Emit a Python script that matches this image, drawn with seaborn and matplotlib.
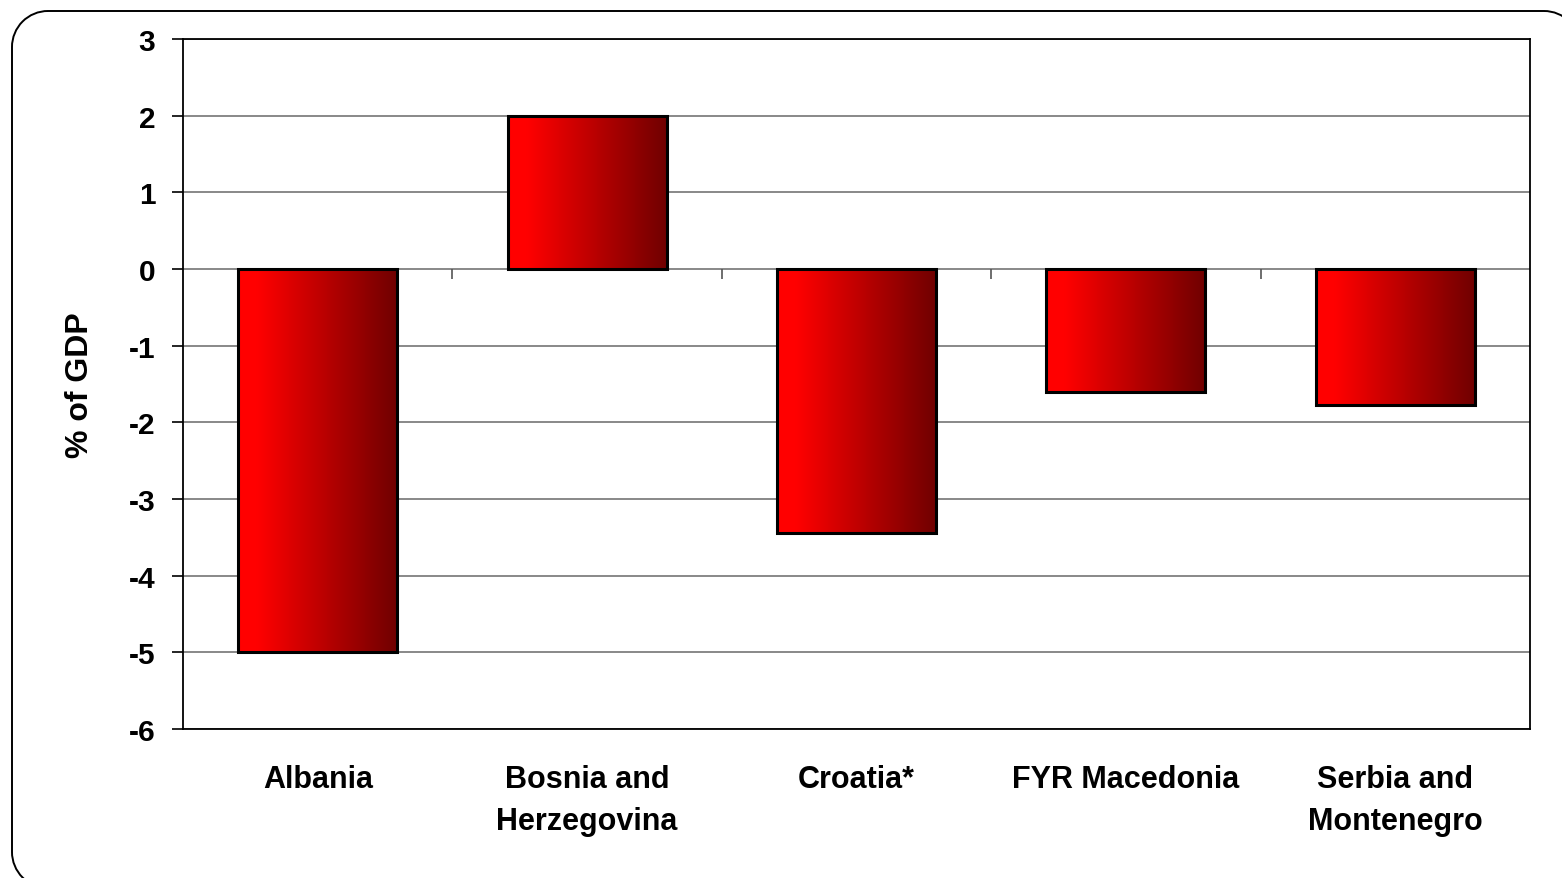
import numpy as np
import pandas as pd
import matplotlib
matplotlib.use("Agg")
import matplotlib.pyplot as plt
import seaborn as sns
from matplotlib.patches import PathPatch
from matplotlib.path import Path
from matplotlib.transforms import IdentityTransform, Affine2D
from matplotlib.colors import LinearSegmentedColormap

countries = ["Albania", "Bosnia and\nHerzegovina", "Croatia*", "FYR Macedonia", "Serbia and\nMontenegro"]
balance = [-5.0, 2.0, -3.44, -1.6, -1.77]
y_ticks = [3, 2, 1, 0, -1, -2, -3, -4, -5, -6]

sns.set_theme(style="white")
plt.rcParams["font.family"] = ["Liberation Sans", "DejaVu Sans"]
plt.rcParams["font.weight"] = "bold"
plt.rcParams["text.color"] = "black"
plt.rcParams["axes.labelcolor"] = "black"
plt.rcParams["xtick.color"] = "black"
plt.rcParams["ytick.color"] = "black"

fig = plt.figure(figsize=(15.62, 8.79), dpi=100)
ax = fig.add_axes([0.1172, 0.1695, 0.8623, 0.785])

df = pd.DataFrame({"country": countries, "balance": balance})
sns.barplot(data=df, x="country", y="balance", ax=ax, width=0.59,
            color="red", saturation=1, zorder=3)

ax.set_ylim(-6, 3)
ax.set_xlim(-0.5, len(countries) - 0.5)
ax.set_yticks(y_ticks)
ax.set_yticklabels([str(t) for t in y_ticks], fontsize=21.5, fontweight="bold", color="black")
ax.set_xticks(range(len(countries)))
ax.set_xticklabels(countries, fontsize=22, fontweight="bold", linespacing=1.55, color="black")
ax.tick_params(axis="x", length=0, pad=25)
ax.tick_params(axis="y", length=8, width=1.2, color="black", pad=12, direction="out", left=True)

ax.yaxis.grid(True, color="#7f7f7f", linewidth=1.3, zorder=0)
ax.set_axisbelow(True)
for s in ax.spines.values():
    s.set_visible(True)
    s.set_color("black")
    s.set_linewidth(1.3)

ax.set_xlabel("")
ax.set_ylabel("% of GDP", fontsize=23, fontweight="bold", labelpad=24, color="black")

# category separator ticks on the zero line
ax.vlines(np.arange(len(countries) - 1) + 0.5, -0.13, 0, color="#555555", linewidth=1.2, zorder=2)

# horizontal red gradient on each bar
cmap = LinearSegmentedColormap.from_list(
    "redgrad", [(0.0, "#ff0000"), (0.12, "#ff0000"), (1.0, "#700000")])
grad = np.linspace(0, 1, 256).reshape(1, -1)
for patch in ax.patches:
    x0, y0 = patch.get_x(), patch.get_y()
    w, h = patch.get_width(), patch.get_height()
    ylo, yhi = min(y0, y0 + h), max(y0, y0 + h)
    im = ax.imshow(grad, cmap=cmap, aspect="auto", extent=[x0, x0 + w, ylo, yhi],
                   zorder=3, interpolation="bicubic")
    im.set_clip_path(patch)
    patch.set_facecolor("none")
    patch.set_edgecolor("black")
    patch.set_linewidth(2.2)
    patch.set_zorder(4)
ax.set_xlim(-0.5, len(countries) - 0.5)
ax.set_ylim(-6, 3)


def rounded_rect(x0, y0, x1, y1, r):
    """Closed path of a rectangle with circular corners (pixel units)."""
    verts, codes = [], []
    corners = [((x1 - r, y0 + r), -90, 0), ((x1 - r, y1 - r), 0, 90),
               ((x0 + r, y1 - r), 90, 180), ((x0 + r, y0 + r), 180, 270)]
    for (cx, cy), t1, t2 in corners:
        arc = Path.arc(t1, t2)
        pts = Affine2D().scale(r).translate(cx, cy).transform(arc.vertices)
        c = list(arc.codes)
        if verts:
            c[0] = Path.LINETO
        verts.extend(pts)
        codes.extend(c)
    verts.append(verts[0])
    codes.append(Path.LINETO)
    return Path(verts, codes)


# rounded frame around the figure (pixel coordinates, origin bottom-left)
H = 879
frame = PathPatch(rounded_rect(12, -10, 1580, H - 12, 36), transform=IdentityTransform(),
                  facecolor="none", edgecolor="black", linewidth=1.4)
fig.patches.append(frame)

fig.savefig("out.png", dpi=100)
